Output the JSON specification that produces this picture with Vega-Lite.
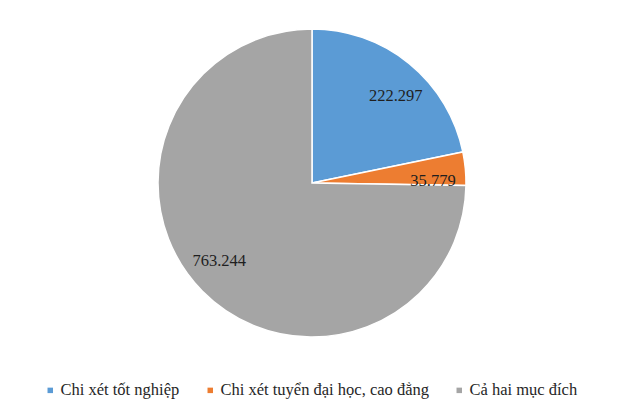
{
  "$schema": "https://vega.github.io/schema/vega-lite/v6.json",
  "width": 624,
  "height": 366,
  "autosize": {"type": "none"},
  "padding": {"left": 0, "top": 0, "right": 0, "bottom": 40},
  "background": "white",
  "config": {"view": {"stroke": null}, "font": "Liberation Serif"},
  "data": {
    "values": [
      {"category": "Chi xét tốt nghiệp", "value": 222297, "label": "222.297", "order": 1},
      {"category": "Chi xét tuyển đại học, cao đẳng", "value": 35779, "label": "35.779", "order": 2},
      {"category": "Cả hai mục đích", "value": 763244, "label": "763.244", "order": 3}
    ]
  },
  "encoding": {
    "theta": {"field": "value", "type": "quantitative", "stack": true},
    "order": {"field": "order", "type": "quantitative"}
  },
  "layer": [
    {
      "mark": {"type": "arc", "outerRadius": 154, "stroke": "white", "strokeWidth": 1.5},
      "encoding": {
        "color": {
          "field": "category",
          "type": "nominal",
          "sort": null,
          "scale": {
            "domain": ["Chi xét tốt nghiệp", "Chi xét tuyển đại học, cao đẳng", "Cả hai mục đích"],
            "range": ["#5B9BD5", "#ED7D31", "#A5A5A5"]
          },
          "legend": {
            "title": null,
            "orient": "none",
            "legendX": 42,
            "legendY": 382,
            "direction": "horizontal",
            "symbolType": "square",
            "symbolSize": 30,
            "symbolStrokeWidth": 0,
            "labelFont": "Liberation Serif",
            "labelFontSize": 16.5,
            "labelColor": "#262626",
            "labelOffset": 2,
            "columnPadding": 22,
            "labelLimit": 400
          }
        }
      }
    },
    {
      "mark": {"type": "text", "radius": 121, "thetaOffset": 0.08, "font": "Liberation Serif", "fontSize": 16.5, "color": "#1f1f1f"},
      "encoding": {"text": {"field": "label", "type": "nominal"}}
    }
  ]
}
